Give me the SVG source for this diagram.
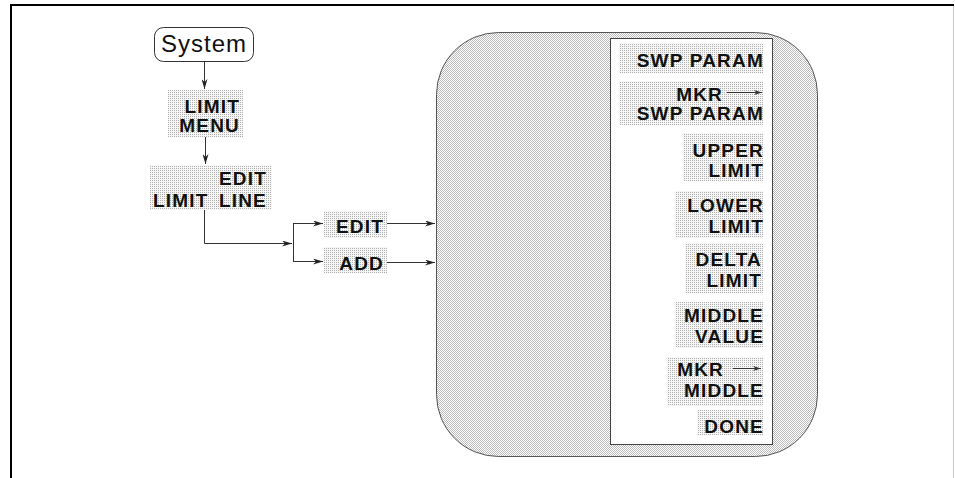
<svg xmlns="http://www.w3.org/2000/svg" width="955" height="478" viewBox="0 0 955 478">
<defs>
<pattern id="dark" width="2" height="2" patternUnits="userSpaceOnUse">
<rect width="2" height="2" fill="#ffffff"/>
<rect width="1" height="1" fill="#bcbcbc"/>
<rect x="1" y="1" width="1" height="1" fill="#bcbcbc"/>
</pattern>
<pattern id="light" width="2" height="2" patternUnits="userSpaceOnUse">
<rect width="2" height="2" fill="#f6f6f6"/>
<rect width="1" height="1" fill="#b0b0b0"/>
</pattern>
<marker id="ah" viewBox="0 0 10 6" refX="10" refY="3" markerWidth="10" markerHeight="6" markerUnits="userSpaceOnUse" orient="auto">
<path d="M0,0 L10,3 L0,6 L3,3 z" fill="#222"/>
</marker>
<marker id="ahs" viewBox="0 0 10 6" refX="10" refY="3" markerWidth="8" markerHeight="5" markerUnits="userSpaceOnUse" orient="auto">
<path d="M0,0 L10,3 L0,6 L3,3 z" fill="#333"/>
</marker>
</defs>
<style>
.key{fill:url(#light);shape-rendering:crispEdges}
.t{font-family:"Liberation Sans",Arial,sans-serif;font-weight:bold;font-size:19px;letter-spacing:1.2px;fill:#111}
.e{text-anchor:end}
.ln{fill:none;stroke:#333;stroke-width:1}
</style>
<rect width="955" height="478" fill="#fff"/>
<g id="frame">
<line x1="10" y1="5" x2="954" y2="5" stroke="#000" stroke-width="2"/>
<line x1="11" y1="4" x2="11" y2="478" stroke="#000" stroke-width="2"/>
<line x1="953.5" y1="6" x2="953.5" y2="478" stroke="#c8c8c8" stroke-width="1"/>
</g>
<g id="panel">
<rect x="436.5" y="32.5" width="381" height="424" rx="62" ry="62" fill="url(#dark)" stroke="#555" stroke-width="1"/>
<rect x="610.5" y="38.5" width="162" height="406" fill="#fff" stroke="#444" stroke-width="1"/>
</g>
<g id="system">
<rect x="154.5" y="27.5" width="99" height="34" rx="9" ry="9" fill="#fff" stroke="#333" stroke-width="1"/>
<text x="204" y="52" text-anchor="middle" font-family="Liberation Sans,Arial,sans-serif" font-size="24" letter-spacing="1" fill="#111">System</text>
</g>
<g id="limit-menu">
<rect class="key" x="168" y="90" width="75" height="47"/>
<text class="t e" x="240" y="113">LIMIT</text>
<text class="t e" x="240" y="132">MENU</text>
</g>
<g id="limit-edit-line">
<rect class="key" x="150" y="165" width="122" height="45"/>
<text class="t e" x="267" y="185">EDIT</text>
<text class="t e" x="267" y="207">LINE</text>
<text class="t" x="153" y="207">LIMIT</text>
</g>
<g id="edit">
<rect class="key" x="324" y="211" width="63" height="27"/>
<text class="t e" x="384" y="233">EDIT</text>
</g>
<g id="add">
<rect class="key" x="324" y="247" width="63" height="26"/>
<text class="t e" x="384" y="270">ADD</text>
</g>
<g id="swp-param">
<rect class="key" x="619" y="43" width="144" height="30"/>
<text class="t e" x="764" y="67">SWP PARAM</text>
</g>
<g id="mkr-swp-param">
<rect class="key" x="619" y="81" width="144" height="44"/>
<text class="t e" x="723" y="101">MKR</text>
<line x1="727" y1="92.5" x2="762" y2="92.5" stroke="#333" stroke-width="1" marker-end="url(#ahs)"/>
<text class="t e" x="764" y="120">SWP PARAM</text>
</g>
<g id="upper-limit">
<rect class="key" x="683" y="133" width="80" height="48"/>
<text class="t e" x="764" y="157">UPPER</text>
<text class="t e" x="764" y="177">LIMIT</text>
</g>
<g id="lower-limit">
<rect class="key" x="675" y="191" width="88" height="47"/>
<text class="t e" x="764" y="212">LOWER</text>
<text class="t e" x="764" y="233">LIMIT</text>
</g>
<g id="delta-limit">
<rect class="key" x="685" y="243" width="78" height="50"/>
<text class="t e" x="762" y="266">DELTA</text>
<text class="t e" x="762" y="287">LIMIT</text>
</g>
<g id="middle-value">
<rect class="key" x="675" y="302" width="88" height="46"/>
<text class="t e" x="764" y="322">MIDDLE</text>
<text class="t e" x="764" y="343">VALUE</text>
</g>
<g id="mkr-middle">
<rect class="key" x="667" y="357" width="96" height="49"/>
<text class="t e" x="724" y="376">MKR</text>
<line x1="733" y1="368.5" x2="761" y2="368.5" stroke="#333" stroke-width="1" marker-end="url(#ahs)"/>
<text class="t e" x="764" y="397">MIDDLE</text>
</g>
<g id="done">
<rect class="key" x="697" y="410" width="66" height="25"/>
<text class="t e" x="764" y="433">DONE</text>
</g>
<g id="connectors">
<line class="ln" x1="204.5" y1="62" x2="204.5" y2="89" marker-end="url(#ah)"/>
<line class="ln" x1="205.5" y1="137" x2="205.5" y2="164" marker-end="url(#ah)"/>
<path class="ln" d="M204.5,210 V243.5 H292" marker-end="url(#ah)"/>
<path class="ln" d="M293.5,224 V261.5"/>
<path class="ln" d="M293,223.5 H323" marker-end="url(#ah)"/>
<path class="ln" d="M293,261.5 H323" marker-end="url(#ah)"/>
<path class="ln" d="M387,223.5 H435" marker-end="url(#ah)"/>
<path class="ln" d="M387,262.5 H435" marker-end="url(#ah)"/>
</g>
</svg>
